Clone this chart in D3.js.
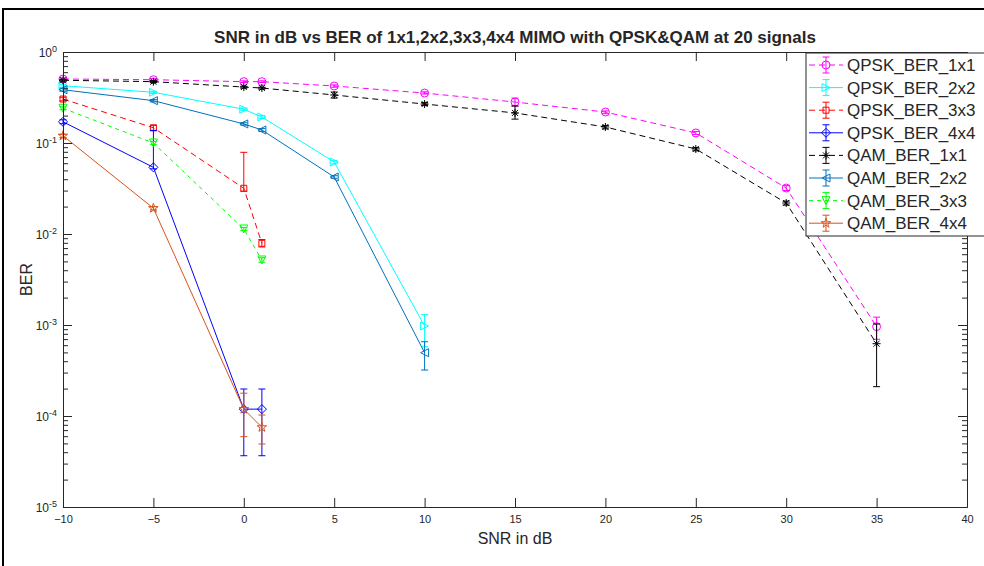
<!DOCTYPE html>
<html>
<head>
<meta charset="utf-8">
<script src="https://cdn.jsdelivr.net/npm/d3@7"></script>
<style>
	body { margin: 0; background: #fff; }
	#chart { width: 984px; height: 566px; }
	text { font-family: 'Liberation Sans', Arial, sans-serif; fill: #262626; }
</style>
</head>
<body>
<div id="chart"></div>
<script>
/*globals d3*/

// snr values (dB)
const snrLong = [-10, -5, 0, 1, 5, 10, 15, 20, 25, 30, 35];
const snrMid = [-10, -5, 0, 1, 5, 10];
const snrShort = [-10, -5, 0, 1];

// BER values
const berQpsk1 = [0.505, 0.496, 0.472, 0.472, 0.423, 0.354, 0.282, 0.219, 0.129, 0.032, 0.00096];
const berQpsk2 = [0.426, 0.361, 0.235, 0.193, 0.0618, 0.000975];
const berQpsk3 = [0.304, 0.147, 0.0318, 0.0079];
const berQpsk4 = [0.171, 0.054, 0.000119, 0.000119];
const berQam1 = [0.489, 0.472, 0.412, 0.402, 0.337, 0.268, 0.214, 0.150, 0.086, 0.0219, 0.000623];
const berQam2 = [0.385, 0.292, 0.162, 0.139, 0.0423, 0.000496];
const berQam3 = [0.241, 0.100, 0.01135, 0.00518];
const berQam4 = [0.120, 0.0192, 0.000119, 0.0000751];

// error bar bounds [low, high]
const errQpsk1 = [[0.49, 0.52], [0.48, 0.51], [0.462, 0.482], [0.462, 0.482], [0.41, 0.435], [0.345, 0.365], [0.255, 0.312], [0.21, 0.225], [0.124, 0.134], [0.03, 0.034], [0.000697, 0.00122]];
const errQpsk2 = [[0.41, 0.44], [0.35, 0.37], [0.228, 0.242], [0.186, 0.2], [0.059, 0.064], [0.000578, 0.0013]];
const errQpsk3 = [[0.29, 0.318], [0.138, 0.156], [0.0295, 0.079], [0.0072, 0.0087]];
const errQpsk4 = [[0.163, 0.18], [0.052, 0.137], [0.0000366, 0.000198], [0.0000366, 0.000198]];
const errQam1 = [[0.47, 0.5], [0.46, 0.485], [0.40, 0.42], [0.39, 0.41], [0.312, 0.363], [0.258, 0.278], [0.183, 0.255], [0.143, 0.156], [0.082, 0.089], [0.0208, 0.023], [0.00021, 0.001026]];
const errQam2 = [[0.37, 0.40], [0.283, 0.3], [0.157, 0.167], [0.134, 0.144], [0.041, 0.0437], [0.00032, 0.000655]];
const errQam3 = [[0.232, 0.25], [0.096, 0.104], [0.0109, 0.0118], [0.0049, 0.0055]];
const errQam4 = [[0.115, 0.125], [0.0184, 0.02], [0.0000593, 0.000178], [0.0000492, 0.0001025]];

const seriesNames = ['QPSK_BER_1x1', 'QPSK_BER_2x2', 'QPSK_BER_3x3', 'QPSK_BER_4x4',
	'QAM_BER_1x1', 'QAM_BER_2x2', 'QAM_BER_3x3', 'QAM_BER_4x4'];
const xTicks = [-10, -5, 0, 5, 10, 15, 20, 25, 30, 35, 40];
const yTickExp = [0, -1, -2, -3, -4, -5];

var berChart = function() {
	'use strict';
	const width = 984;
	const height = 566;
	const plot = { left: 63, right: 967, top: 52, bottom: 507 };
	const axisColor = '#262626';
	let svg;

	const series = [
		{ x: snrLong, y: berQpsk1, err: errQpsk1, color: '#FF00FF', dash: '6,4', marker: 'circle' },
		{ x: snrMid, y: berQpsk2, err: errQpsk2, color: '#00FFFF', dash: null, marker: 'triRight' },
		{ x: snrShort, y: berQpsk3, err: errQpsk3, color: '#FF0000', dash: '6,4', marker: 'square' },
		{ x: snrShort, y: berQpsk4, err: errQpsk4, color: '#0000FF', dash: null, marker: 'diamond' },
		{ x: snrLong, y: berQam1, err: errQam1, color: '#000000', dash: '6,4', marker: 'asterisk' },
		{ x: snrMid, y: berQam2, err: errQam2, color: '#0072BD', dash: null, marker: 'triLeft' },
		{ x: snrShort, y: berQam3, err: errQam3, color: '#00FF00', dash: '4,4', marker: 'triDown' },
		{ x: snrShort, y: berQam4, err: errQam4, color: '#D95319', dash: null, marker: 'star' }
	];

	const xScale = d3.scaleLinear().domain([-10, 40]).range([plot.left, plot.right]);
	const yScale = d3.scaleLog().domain([1e-5, 1]).range([plot.bottom, plot.top]);

	function markerPath(type) {
		const h = 4;
		switch (type) {
		case 'circle':
			return d3.symbol(d3.symbolCircle, 50)();
		case 'square':
			return 'M-3,-3L3,-3L3,3L-3,3Z';
		case 'diamond':
			return 'M0,-4.5L4.5,0L0,4.5L-4.5,0Z';
		case 'triRight':
			return 'M' + (-h) + ',' + (-h) + 'L' + h + ',0L' + (-h) + ',' + h + 'Z';
		case 'triLeft':
			return 'M' + h + ',' + (-h) + 'L' + (-h) + ',0L' + h + ',' + h + 'Z';
		case 'triDown':
			return 'M' + (-h) + ',' + (-h) + 'L' + h + ',' + (-h) + 'L0,' + h + 'Z';
		case 'star':
			return d3.symbol(d3.symbolStar, 28)();
		case 'asterisk':
			return 'M-4,0L4,0M0,-4L0,4M-3,-3L3,3M-3,3L3,-3';
		}
		return '';
	}

	function drawSvg(idSelector) {
		d3.selectAll('#' + idSelector + ' svg').remove();
		svg = d3.select('#' + idSelector).append('svg')
			.attr('width', width)
			.attr('height', height);
		svg.append('rect').attr('width', width).attr('height', height).attr('fill', '#fff');
		// figure frame (top + left)
		svg.append('path')
			.attr('d', 'M3,' + height + 'L3,9L' + width + ',9')
			.attr('fill', 'none')
			.attr('stroke', '#000')
			.attr('stroke-width', 2);
	}

	function drawAxes() {
		const minor = [];
		for (let e = -5; e < 0; e++) {
			for (let m = 2; m < 10; m++) {
				minor.push(m * Math.pow(10, e));
			}
		}
		const major = yTickExp.map(function(e) { return Math.pow(10, e); });

		// bottom axis with labels
		const gx = svg.append('g')
			.attr('transform', 'translate(0,' + plot.bottom + ')')
			.call(d3.axisBottom(xScale).tickValues(xTicks).tickSize(-9).tickSizeOuter(0).tickPadding(8)
				.tickFormat(d3.format('d')));
		gx.selectAll('text').style('font-size', '11px').attr('fill', axisColor);
		// top axis
		svg.append('g')
			.attr('transform', 'translate(0,' + plot.top + ')')
			.call(d3.axisTop(xScale).tickValues(xTicks).tickSize(-9).tickSizeOuter(0).tickFormat(''));

		// left axis major
		const gy = svg.append('g')
			.attr('transform', 'translate(' + plot.left + ',0)')
			.call(d3.axisLeft(yScale).tickValues(major).tickSize(-9).tickSizeOuter(0).tickPadding(6)
				.tickFormat(''));
		gy.selectAll('.tick text').each(function(d) {
			const t = d3.select(this);
			t.attr('dy', '0.35em').style('font-size', '12px').attr('fill', axisColor);
			t.append('tspan').text('10');
			t.append('tspan').attr('dy', '-0.5em').style('font-size', '9px')
				.text(String(Math.round(Math.log10(d))));
		});
		svg.append('g')
			.attr('transform', 'translate(' + plot.left + ',0)')
			.call(d3.axisLeft(yScale).tickValues(minor).tickSize(-5).tickSizeOuter(0).tickFormat(''));
		// right axis
		svg.append('g')
			.attr('transform', 'translate(' + plot.right + ',0)')
			.call(d3.axisRight(yScale).tickValues(major).tickSize(-9).tickSizeOuter(0).tickFormat(''));
		svg.append('g')
			.attr('transform', 'translate(' + plot.right + ',0)')
			.call(d3.axisRight(yScale).tickValues(minor).tickSize(-5).tickSizeOuter(0).tickFormat(''));

		svg.selectAll('.domain, .tick line').attr('stroke', axisColor);

		// titles
		svg.append('text')
			.attr('x', (plot.left + plot.right) / 2).attr('y', 43)
			.attr('text-anchor', 'middle')
			.style('font-size', '17px').style('font-weight', 'bold').attr('fill', '#000')
			.text('SNR in dB vs BER of 1x1,2x2,3x3,4x4 MIMO with QPSK&QAM at 20 signals');
		svg.append('text')
			.attr('x', (plot.left + plot.right) / 2).attr('y', 544)
			.attr('text-anchor', 'middle')
			.style('font-size', '16px')
			.text('SNR in dB');
		svg.append('text')
			.attr('transform', 'translate(32,' + ((plot.top + plot.bottom) / 2) + ') rotate(-90)')
			.attr('text-anchor', 'middle')
			.style('font-size', '16px')
			.text('BER');
	}

	function drawSeries() {
		const line = d3.line()
			.x(function(d) { return xScale(d[0]); })
			.y(function(d) { return yScale(d[1]); });

		series.forEach(function(s) {
			const pts = s.x.map(function(v, i) { return [v, s.y[i], s.err[i]]; });
			const g = svg.append('g');
			g.append('path')
				.datum(pts)
				.attr('d', line)
				.attr('fill', 'none')
				.attr('stroke', s.color)
				.attr('stroke-width', 1)
				.attr('stroke-dasharray', s.dash);
			// error bars
			pts.forEach(function(p) {
				if (!p[2]) {
					return;
				}
				const px = xScale(p[0]);
				const y0 = yScale(p[2][0]);
				const y1 = yScale(p[2][1]);
				g.append('path')
					.attr('d', 'M' + px + ',' + y0 + 'L' + px + ',' + y1 +
						'M' + (px - 3.5) + ',' + y0 + 'L' + (px + 3.5) + ',' + y0 +
						'M' + (px - 3.5) + ',' + y1 + 'L' + (px + 3.5) + ',' + y1)
					.attr('fill', 'none')
					.attr('stroke', s.color)
					.attr('stroke-width', 1);
			});
			g.selectAll('.mk')
				.data(pts)
				.enter().append('path')
				.attr('class', 'mk')
				.attr('transform', function(d) { return 'translate(' + xScale(d[0]) + ',' + yScale(d[1]) + ')'; })
				.attr('d', markerPath(s.marker))
				.attr('fill', 'none')
				.attr('stroke', s.color)
				.attr('stroke-width', 1);
		});
	}

	function drawLegend() {
		const lx = 806;
		const ly = 53;
		const rowH = 22.6;
		const lg = svg.append('g').attr('transform', 'translate(' + lx + ',' + ly + ')');
		lg.append('rect')
			.attr('width', 190).attr('height', 183)
			.attr('fill', '#fff')
			.attr('stroke', axisColor)
			.attr('stroke-width', 1);
		series.forEach(function(s, i) {
			const cy = 12 + i * rowH;
			lg.append('path')
				.attr('d', 'M3,' + cy + 'L37,' + cy)
				.attr('stroke', s.color)
				.attr('stroke-width', 1)
				.attr('stroke-dasharray', s.dash);
			lg.append('path')
				.attr('d', 'M20,' + (cy - 8) + 'L20,' + (cy + 8) + 'M16.5,' + (cy - 8) + 'L23.5,' + (cy - 8) +
					'M16.5,' + (cy + 8) + 'L23.5,' + (cy + 8))
				.attr('stroke', s.color)
				.attr('fill', 'none')
				.attr('stroke-width', 1);
			lg.append('path')
				.attr('transform', 'translate(20,' + cy + ')')
				.attr('d', markerPath(s.marker))
				.attr('fill', 'none')
				.attr('stroke', s.color)
				.attr('stroke-width', 1);
			lg.append('text')
				.attr('x', 41).attr('y', cy + 6)
				.style('font-size', '17px')
				.attr('fill', '#000')
				.text(seriesNames[i]);
		});
	}

	return {
		render: function(idSelector) {
			drawSvg(idSelector);
			drawSeries();
			drawAxes();
			drawLegend();
		}
	};
};

berChart().render('chart');
</script>
</body>
</html>
